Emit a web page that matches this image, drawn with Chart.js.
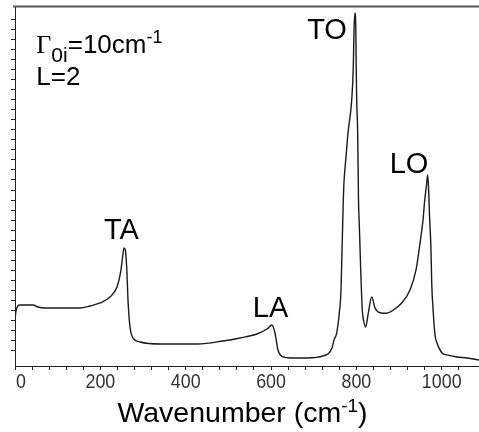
<!DOCTYPE html>
<html>
<head>
<meta charset="utf-8">
<script src="https://cdn.jsdelivr.net/npm/chart.js@4"></script>
<style>
  html, body { margin: 0; padding: 0; background: #fff; }
  #chart { display: block; }
</style>
</head>
<body>
<canvas id="chart" width="479" height="432"></canvas>
<script>
// spectrum (wavenumber in cm-1, intensity in arb. units)
const wavenumber = [
  0, 2.3, 7, 11.7, 42.2, 53.9, 70.3, 152.3, 175.8, 199.2,
  222.6, 239, 248.4, 251.9, 255.4, 258.5, 262.4, 264.8, 269.5, 276.5,
  292.9, 339.8, 428.9, 487.5, 527.3, 567.1, 590.6, 602.3, 609.3, 616.3,
  628.1, 644.5, 684.4, 721.8, 742.9, 747.6, 753.9, 760, 764, 767,
  769.4, 771, 775.7, 780.4, 789.1, 792.8, 794.5, 796.8, 798.7, 799.6,
  800.8, 803.1, 805, 806.9, 810.2, 813.9, 816.7, 821.9, 828, 836,
  843.7, 855.4, 871.1, 886.6, 906.3, 925.7, 939.8, 949.2, 956.2, 960.2,
  964.4, 967.2, 969.8, 971.4, 974.9, 976.6, 980.3, 984.3, 989, 1000.7,
  1012.4, 1035.9, 1059.3, 1087.4
];
const intensity = [
  4.08, 4.97, 5.47, 5.57, 5.57, 5.37, 5.27, 5.27, 5.47, 5.77,
  6.36, 7.36, 9.05, 10.24, 11.24, 11.04, 8.75, 6.07, 3.38, 2.29,
  1.89, 1.69, 1.69, 1.99, 2.29, 2.68, 3.18, 3.58, 2.78, 1.09,
  0.40, 0.30, 0.30, 0.50, 1.29, 2.09, 2.78, 4.77, 7.06, 12.03,
  16.01, 17.8, 20.28, 22.67, 25.95, 29.23, 32.91, 34.6, 32.91, 29.23,
  25.95, 22.67, 16.01, 13.52, 9.05, 5.07, 4.08, 3.38, 4.77, 6.36,
  5.27, 4.80, 4.74, 5.07, 5.77, 7.06, 9.05, 11.73, 14.02, 16.01,
  17.5, 18.49, 16.51, 14.52, 11.04, 7.76, 4.77, 2.59, 1.79, 0.80,
  0.60, 0.40, 0.30, 0.10
];

const xMin = 0, xMax = 1087.4, xTickStep = 40, xLabelStep = 200;
const yMin = -0.5, yMax = 35.3, yTickStep = 1;

// peak names and where they sit (data coords: text centre x, baseline y)
const peakNames = ['TA', 'LA', 'TO', 'LO'];
const peakLabelX = [249.6, 598.8, 731.2, 923.4];
const peakLabelY = [12.13, 4.38, 32.02, 18.66];

// parameter note in the top left corner
const noteX = 50;
const noteLineY = [30.6, 27.44];

const sansFont = "'Liberation Sans', Arial, sans-serif";
const serifFont = "'Liberation Serif', 'Times New Roman', serif";

function drawParts(ctx, parts, x, y) {
  ctx.textAlign = 'left';
  ctx.textBaseline = 'alphabetic';
  let cx = x;
  parts.forEach(p => {
    ctx.font = p.size + 'px ' + (p.family || sansFont);
    ctx.fillText(p.text, cx, y + (p.dy || 0));
    cx += ctx.measureText(p.text).width;
  });
  return cx - x;
}

function partsWidth(ctx, parts) {
  let w = 0;
  parts.forEach(p => {
    ctx.font = p.size + 'px ' + (p.family || sansFont);
    w += ctx.measureText(p.text).width;
  });
  return w;
}

const textPlugin = {
  id: 'texts',
  afterDraw(chart) {
    const ctx = chart.ctx;
    const xs = chart.scales.x, ys = chart.scales.y;
    const area = chart.chartArea;
    ctx.save();

    // top frame line
    ctx.strokeStyle = '#555';
    ctx.lineWidth = 2;
    ctx.beginPath();
    ctx.moveTo(area.left - 2, area.top + 0.5);
    ctx.lineTo(area.right, area.top + 0.5);
    ctx.stroke();

    // x tick labels, in a narrow face like the original
    ctx.fillStyle = '#333';
    ctx.font = '21px ' + sansFont;
    ctx.textAlign = 'center';
    ctx.textBaseline = 'alphabetic';
    const squeeze = 0.85;
    xs.ticks.forEach(t => {
      if (t.value % xLabelStep !== 0) return;
      const label = String(t.value);
      const w = ctx.measureText(label).width * squeeze;
      const px = Math.max(xs.getPixelForValue(t.value), area.left + w / 2 + 1);
      ctx.save();
      ctx.translate(px, area.bottom + 22);
      ctx.scale(squeeze, 1);
      ctx.fillText(label, 0, 0);
      ctx.restore();
    });

    ctx.fillStyle = '#000';
    // peak labels
    ctx.font = '29px ' + sansFont;
    peakNames.forEach((name, i) => {
      ctx.fillText(name, xs.getPixelForValue(peakLabelX[i]), ys.getPixelForValue(peakLabelY[i]));
    });

    // Γ0i=10cm-1 / L=2
    const nx = xs.getPixelForValue(noteX);
    drawParts(ctx, [
      { text: 'Γ', size: 26, family: serifFont },
      { text: '0i', size: 21, dy: 9 },
      { text: '=10cm', size: 26 },
      { text: '-1', size: 18, dy: -10 }
    ], nx, ys.getPixelForValue(noteLineY[0]));
    drawParts(ctx, [{ text: 'L=2', size: 26 }], nx, ys.getPixelForValue(noteLineY[1]));

    // axis title
    const title = [
      { text: 'Wavenumber (cm', size: 28.5 },
      { text: '-1', size: 19, dy: -10 },
      { text: ')', size: 28.5 }
    ];
    const tw = partsWidth(ctx, title);
    drawParts(ctx, title, area.left + 227.5 - tw / 2, area.bottom + 56);
    ctx.restore();
  }
};

const keepSteps = step => scale => {
  scale.ticks = scale.ticks.filter(t => Math.abs(t.value / step - Math.round(t.value / step)) < 1e-6);
};

const ctx = document.getElementById('chart').getContext('2d');
new Chart(ctx, {
  type: 'line',
  data: {
    datasets: [{
      data: wavenumber.map((w, i) => ({ x: w, y: intensity[i] })),
      borderColor: '#1a1a1a',
      borderWidth: 1.4,
      pointRadius: 0,
      cubicInterpolationMode: 'monotone',
      fill: false
    }]
  },
  options: {
    responsive: false,
    animation: false,
    layout: { padding: { top: 6, left: 0, right: 0, bottom: 0 } },
    plugins: { legend: { display: false }, tooltip: { enabled: false } },
    scales: {
      x: {
        type: 'linear',
        min: xMin,
        max: xMax,
        afterBuildTicks: keepSteps(xTickStep),
        afterFit: s => { s.height = 66; },
        ticks: { display: false, stepSize: xTickStep, autoSkip: false },
        grid: { drawOnChartArea: false, tickLength: 4, tickColor: '#222' },
        border: { color: '#222', width: 1 }
      },
      y: {
        min: yMin,
        max: yMax,
        afterBuildTicks: keepSteps(yTickStep),
        afterFit: s => { s.width = 15; },
        ticks: { display: false, stepSize: yTickStep },
        grid: { drawOnChartArea: false, tickLength: 4, tickColor: '#222' },
        border: { color: '#222', width: 1 }
      }
    }
  },
  plugins: [textPlugin]
});
</script>
</body>
</html>
